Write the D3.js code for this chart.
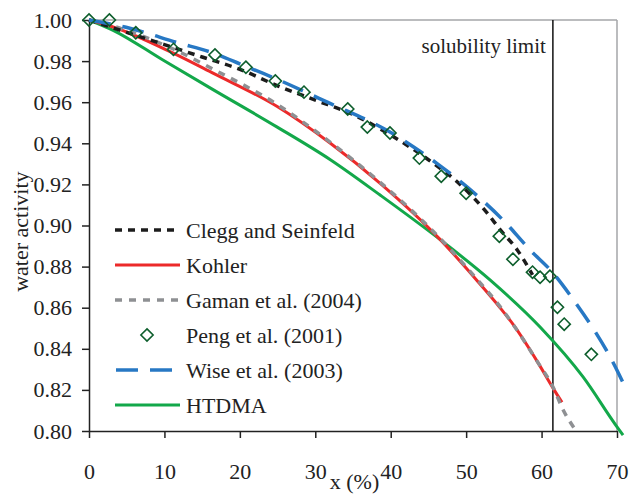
<!DOCTYPE html>
<html>
<head>
<meta charset="utf-8">
<script src="https://cdn.jsdelivr.net/npm/d3@7"></script>
<style>
  body { margin: 0; background: #fff; }
  svg text { font-family: "Liberation Serif", "Times New Roman", serif; fill: #222; }
</style>
</head>
<body>
<svg id="chart" width="630" height="496"></svg>
<script>
// ---- data ----
var xTicks = [0, 10, 20, 30, 40, 50, 60, 70];
var yTicks = [0.80, 0.82, 0.84, 0.86, 0.88, 0.90, 0.92, 0.94, 0.96, 0.98, 1.00];
var solubilityLimit = 61.5;

var cleggX = [0, 5, 10, 15, 20, 25, 30, 35, 40, 45, 49.2, 52.8, 54.5, 56.8, 58.8];
var cleggY = [1.0, 0.994, 0.988, 0.982, 0.976, 0.968, 0.961, 0.954, 0.944, 0.932, 0.920, 0.906, 0.898, 0.888, 0.876];

var kohlerX = [0, 3.2, 11.1, 16.5, 24.9, 32, 38.6, 46.6, 51.4, 54.5, 56.2, 59.4, 61.5, 62.7];
var kohlerY = [1.0, 0.9966, 0.984, 0.974, 0.958, 0.940, 0.9205, 0.893, 0.8734, 0.860, 0.852, 0.834, 0.821, 0.814];

var gamanX = [0, 3.2, 11.1, 16.5, 24.9, 32, 38.6, 46.6, 51.4, 54.5, 56.2, 59.4, 61.5, 62.9, 64.6];
var gamanY = [1.0, 0.997, 0.986, 0.976, 0.959, 0.9405, 0.921, 0.8935, 0.874, 0.8605, 0.852, 0.834, 0.8215, 0.810, 0.800];

var pengX = [0, 2.7, 6.2, 11.2, 16.7, 20.8, 24.7, 28.5, 34.3, 36.9, 39.9, 43.8, 46.7, 50.0, 54.4, 56.2, 58.8, 59.8, 61.1, 62.1, 63.0, 66.6];
var pengY = [1.0, 1.0, 0.9938, 0.9857, 0.983, 0.977, 0.9703, 0.9649, 0.9567, 0.9479, 0.945, 0.9328, 0.924, 0.9157, 0.8948, 0.8836, 0.8773, 0.8748, 0.8753, 0.8602, 0.852, 0.8373];

var wiseX = [0, 5.4, 11.7, 16.4, 20.4, 24.4, 31.6, 39.9, 46.2, 51, 54.9, 58.5, 61.5, 64, 70, 71];
var wiseY = [1.0, 0.996, 0.989, 0.984, 0.978, 0.972, 0.960, 0.9455, 0.930, 0.916, 0.9026, 0.888, 0.877, 0.865, 0.8296, 0.822];

var htdmaX = [0, 3.2, 9.8, 16.5, 24.9, 32, 38.6, 46.6, 53.2, 59.8, 65.5, 70, 70.8];
var htdmaY = [1.0, 0.995, 0.9805, 0.966, 0.948, 0.932, 0.9148, 0.893, 0.8734, 0.8506, 0.8263, 0.802, 0.798];

var seriesNames = ["Clegg and Seinfeld", "Kohler", "Gaman et al. (2004)", "Peng et al. (2001)", "Wise et al. (2003)", "HTDMA"];

// ---- layout ----
var margin = {top: 20, right: 13, bottom: 65, left: 89};
var width = 630 - margin.left - margin.right;
var height = 496 - margin.top - margin.bottom;

var svg = d3.select('#chart');
var g = svg.append('g').attr('transform', 'translate(' + margin.left + ',' + margin.top + ')');

var x = d3.scaleLinear().domain([0, 70]).range([0, width]);
var y = d3.scaleLinear().domain([0.80, 1.00]).range([height, 0]);

// frame (top and right in grey)
g.append('line').attr('x1', 0).attr('x2', width).attr('y1', 0).attr('y2', 0)
  .attr('stroke', '#a4a6a8').attr('stroke-width', 1.5);
g.append('line').attr('x1', width).attr('x2', width).attr('y1', 0).attr('y2', height)
  .attr('stroke', '#a4a6a8').attr('stroke-width', 1.5);

// axes
var xAxis = d3.axisBottom(x).tickValues(xTicks).tickSize(7).tickSizeOuter(0).tickPadding(25);
var yAxis = d3.axisLeft(y).tickValues(yTicks).tickSize(7).tickSizeOuter(0).tickPadding(10)
  .tickFormat(d3.format('.2f'));

var gx = g.append('g').attr('transform', 'translate(0,' + height + ')').call(xAxis);
var gy = g.append('g').call(yAxis);
[gx, gy].forEach(function(a) {
  a.selectAll('path, line').attr('stroke', '#222').attr('stroke-width', 1.5);
  a.selectAll('text').style('font-size', '22px').attr('fill', '#222');
});

// axis titles
svg.append('text')
  .attr('x', margin.left + x(35.2)).attr('y', 489)
  .attr('text-anchor', 'middle').style('font-size', '22px')
  .text('x (%)');
svg.append('text')
  .attr('transform', 'translate(28,' + (margin.top + y(0.897)) + ') rotate(-90)')
  .attr('text-anchor', 'middle').style('font-size', '22px')
  .text('water activity');

// solubility limit
g.append('line')
  .attr('x1', x(solubilityLimit)).attr('x2', x(solubilityLimit))
  .attr('y1', 0).attr('y2', height)
  .attr('stroke', '#111').attr('stroke-width', 1.5);
g.append('text')
  .attr('x', x(solubilityLimit) - 7).attr('y', 33)
  .attr('text-anchor', 'end').style('font-size', '21px')
  .text('solubility limit');

// lines
var line = d3.line()
  .x(function(d) { return x(d[0]); })
  .y(function(d) { return y(d[1]); })
  .curve(d3.curveMonotoneX);

function pairs(xs, ys) {
  return xs.map(function(v, i) { return [v, ys[i]]; });
}

var styles = [
  {name: seriesNames[0], color: '#1c1c1c', width: 3.5, dash: '7,6'},
  {name: seriesNames[1], color: '#ec2a2a', width: 3, dash: null},
  {name: seriesNames[2], color: '#8e9093', width: 3.5, dash: '7,7'},
  {name: seriesNames[3], color: '#0d5e2c', marker: true},
  {name: seriesNames[4], color: '#2778c4', width: 3.5, dash: '22,12'},
  {name: seriesNames[5], color: '#13a84a', width: 3, dash: null}
];

var drawOrder = [
  {s: styles[5], d: pairs(htdmaX, htdmaY)},
  {s: styles[1], d: pairs(kohlerX, kohlerY)},
  {s: styles[2], d: pairs(gamanX, gamanY)},
  {s: styles[0], d: pairs(cleggX, cleggY)},
  {s: styles[4], d: pairs(wiseX, wiseY)}
];

drawOrder.forEach(function(o) {
  g.append('path')
    .attr('fill', 'none')
    .attr('stroke', o.s.color)
    .attr('stroke-width', o.s.width)
    .attr('stroke-dasharray', o.s.dash)
    .attr('d', line(o.d));
});

// Peng et al. diamonds
var diamond = d3.symbol().type(d3.symbolDiamond2).size(95);
g.selectAll('.peng')
  .data(pairs(pengX, pengY))
  .enter().append('path')
  .attr('class', 'peng')
  .attr('transform', function(d) { return 'translate(' + x(d[0]) + ',' + y(d[1]) + ')'; })
  .attr('d', diamond)
  .attr('fill', 'none')
  .attr('stroke', styles[3].color)
  .attr('stroke-width', 1.6);

// legend
var legend = svg.append('g').attr('transform', 'translate(115,230)');
var rows = legend.selectAll('g')
  .data(styles)
  .enter().append('g')
  .attr('transform', function(d, i) { return 'translate(0,' + (i * 35) + ')'; });

rows.each(function(d) {
  var r = d3.select(this);
  if (d.marker) {
    r.append('path')
      .attr('transform', 'translate(32,0)')
      .attr('d', diamond)
      .attr('fill', 'none')
      .attr('stroke', d.color)
      .attr('stroke-width', 1.6);
  } else {
    r.append('line')
      .attr('x1', d.dash === '22,12' ? 1 : 0)
      .attr('x2', d.dash === '22,12' ? 57 : 65)
      .attr('stroke', d.color)
      .attr('stroke-width', d.width)
      .attr('stroke-dasharray', d.dash);
  }
  r.append('text')
    .attr('x', 71).attr('dy', '0.35em')
    .style('font-size', '22px')
    .text(d.name);
});
</script>
</body>
</html>
